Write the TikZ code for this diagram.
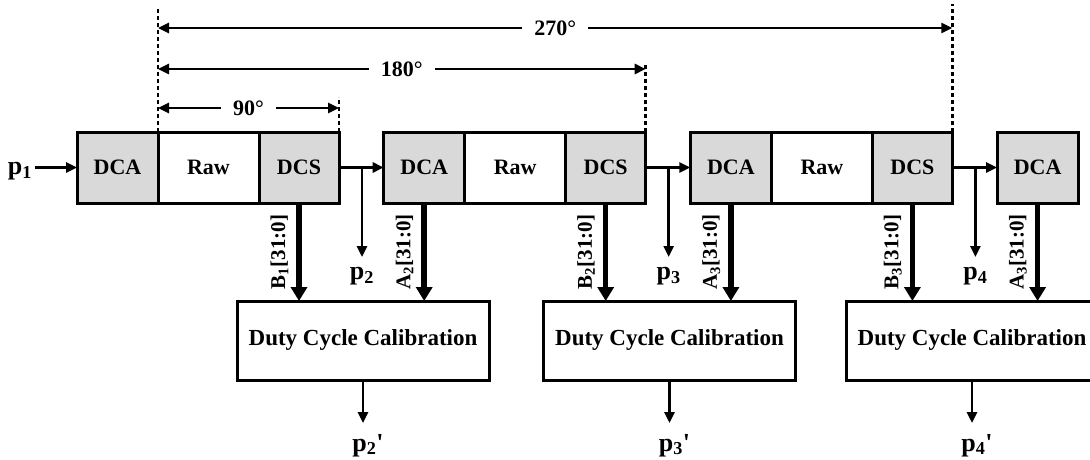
\documentclass[tikz,border=0pt]{standalone}
\usepackage{fontspec}
\setmainfont{Liberation Serif}
\usetikzlibrary{arrows.meta,positioning}
\definecolor{cellgray}{HTML}{D9D9D9}

\begin{document}
\begin{tikzpicture}[
  x=1pt,
  y=-1pt,
  line join=miter
]

  \clip (0,0) rectangle (1090,460);

  % styles for blocks, signals and dimension marks
  \tikzset{
    cell/.style={draw, line width=3pt, minimum height=71pt, inner sep=0pt,
      outer sep=0pt, font=\bfseries\fontsize{22}{24}\selectfont},
    dcacell/.style={cell, fill=cellgray, minimum width=81pt},
    rawcell/.style={cell, fill=white, minimum width=101pt},
    dcscell/.style={cell, fill=cellgray, minimum width=80pt},
    calbox/.style={draw, line width=3pt, minimum width=252pt,
      minimum height=79pt, outer sep=0pt,
      font=\bfseries\fontsize{23}{25}\selectfont},
    plabel/.style={inner sep=0pt, font=\bfseries\fontsize{26}{28}\selectfont},
    buslabel/.style={rotate=90, anchor=south, inner xsep=0pt, inner ysep=8pt,
      font=\bfseries\fontsize{21}{22}\selectfont},
    sig/.style={line width=2.6pt, -{Triangle[length=11pt,width=10pt]}},
    bus/.style={line width=5.5pt, -{Triangle[length=14pt,width=16pt]}},
    guide/.style={line width=2.6pt, dash pattern=on 4pt off 3pt},
    dim/.style={line width=2.6pt,
      {Triangle[length=11pt,width=10pt]}-{Triangle[length=11pt,width=10pt]}},
    dimtext/.style={fill=white, inner xsep=12pt, inner ysep=2pt,
      font=\bfseries\fontsize{22}{24}\selectfont}
  }

  % pipeline stages
  \foreach \g/\gx in {1/77,2/383.7,3/690.4} {
    \node[dcacell] (dca\g) at (\gx+40.5,167.5) {DCA};
    \node[rawcell, right=0pt of dca\g] (raw\g) {Raw};
    \node[dcscell, right=0pt of raw\g] (dcs\g) {DCS};
  }
  \node[dcacell] (dca4) at (1037.6,167.5) {DCA};

  % calibration blocks
  \foreach \g/\cx in {1/363,2/669.5,3/972} {
    \node[calbox] (cal\g) at (\cx,340.5) {Duty Cycle Calibration};
  }

  % input
  \node[plabel] (p1) at (20,171) {p\textsubscript{1}};
  \draw[sig] (dca1.west -| p1.east) ++(3,0) -- (dca1.west);

  % links between stages and taps
  \foreach \g/\n in {1/2,2/3,3/4} {
    \draw[sig] (dcs\g.east) -- (dca\n.west);
    \coordinate (tap\g) at ([xshift=23pt]dcs\g.east);
    \node[plabel, anchor=north] (p\n) at (tap\g |- 0,267) {p\textsubscript{\n}};
    \draw[sig, shorten >=10pt] (tap\g) -- (p\n.north);
  }

  % buses into the calibration blocks
  \foreach \g/\n/\b/\a in {1/2/1/2,2/3/2/3,3/4/3/3} {
    \draw[bus] (dcs\g.south)
      -- node[buslabel] {B\textsubscript{\b}[31:0]} (dcs\g.south |- cal\g.north);
    \draw[bus] (dca\n.south)
      -- node[buslabel] {A\textsubscript{\a}[31:0]} (dca\n.south |- cal\g.north);
  }

  % outputs
  \foreach \g/\n in {1/2,2/3,3/4} {
    \node[plabel, anchor=north, xshift=5pt] (pout\n) at (cal\g.south |- 0,434)
      {p\textsubscript{\n}\textquotesingle};
    \draw[sig, shorten >=11pt] (cal\g.south) -- (cal\g.south |- pout\n.north);
  }

  % phase marks
  \coordinate (t0) at (raw1.north west |- 0,8);
  \coordinate (t1) at (dcs1.north east |- 0,97);
  \coordinate (t2) at (dcs2.north east |- 0,63);
  \coordinate (t3) at (dcs3.north east |- 0,4);
  \draw[guide] (raw1.north west) -- (t0);
  \draw[guide] (dcs1.north east) -- (t1);
  \draw[guide] (dcs2.north east) -- (t2);
  \draw[guide] (dcs3.north east) -- (t3);

  \coordinate (a90l) at (t0 |- 0,108);
  \coordinate (a90r) at (t1 |- 0,108);
  \coordinate (a180l) at (t0 |- 0,69);
  \coordinate (a180r) at (t2 |- 0,69);
  \coordinate (a270l) at (t0 |- 0,28);
  \coordinate (a270r) at (t3 |- 0,28);
  \draw[dim] (a90l) -- node[dimtext] (m90) {90°} (a90r);
  \draw[dim] (a180l) -- node[dimtext] (m180) {180°} (a180r);
  \draw[dim] (a270l) -- node[dimtext] (m270) {270°} (a270r);

\end{tikzpicture}
\end{document}
